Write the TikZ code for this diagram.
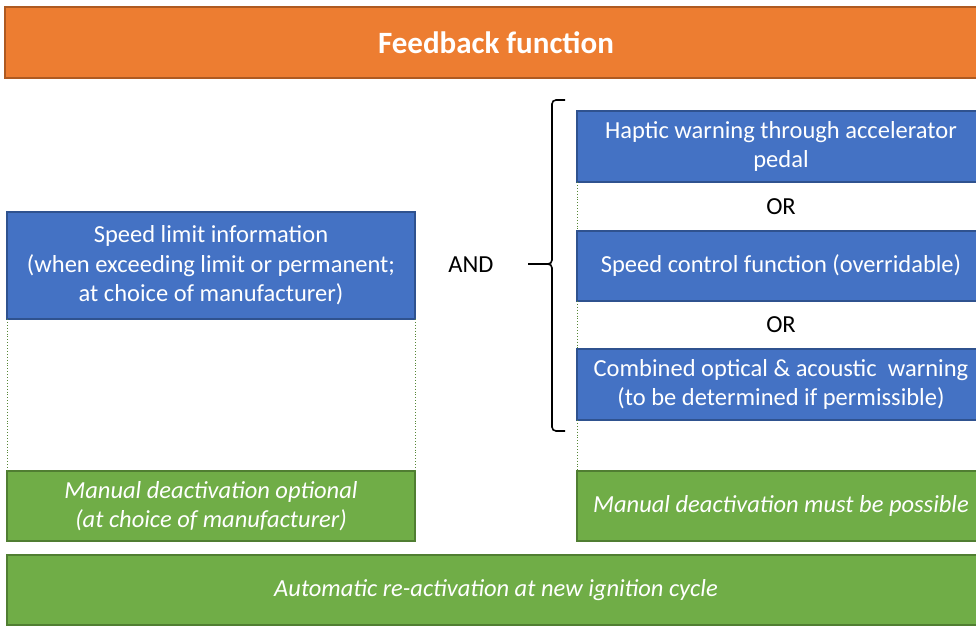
\documentclass[tikz,border=0pt]{standalone}
\usepackage{fontspec}
\setmainfont{Carlito}
\usepackage{tikz}
\usetikzlibrary{positioning}
\definecolor{ofcorange}{HTML}{ED7D31}
\definecolor{ofcorangeline}{HTML}{AE5A21}
\definecolor{ofcblue}{HTML}{4472C4}
\definecolor{ofcblueline}{HTML}{2F528F}
\definecolor{ofcgreen}{HTML}{70AD47}
\definecolor{ofcgreenline}{HTML}{507E32}
\tikzset{block/.style={draw=ofcblueline,line width=1.2pt,fill=ofcblue,text=white,minimum width=408pt,minimum height=71pt,inner sep=0pt,outer sep=0pt,align=center,font=\fontsize{24.5}{29.5}\selectfont},
         greenblock/.style={block,draw=ofcgreenline,fill=ofcgreen,minimum height=70pt,font=\fontsize{24.5}{29.5}\selectfont\itshape},
         word/.style={text=black,font=\fontsize{24.5}{29.5}\selectfont},
         guide/.style={draw=ofcgreenline!80!ofcgreen,line width=0.9pt,dotted},
         brace/.style={line width=1.6pt,rounded corners=4pt}
}

\begin{document}
\begin{tikzpicture}[x=1pt,y=-1pt]
  \useasboundingbox (0,0) rectangle (976,626);
  \node[block,draw=ofcorangeline,fill=ofcorange,minimum width=982pt,font=\fontsize{31}{36}\selectfont\bfseries] (title) at (496,42.5) {Feedback function};
  % left column
  \node[block,minimum height=107pt] (speedinfo) at (211,265.5) {Speed limit information\\(when exceeding limit or permanent;\\at choice of manufacturer)};
  \node[greenblock,below=152pt of speedinfo] (manualopt) {Manual deactivation optional\\(at choice of manufacturer)};
  \draw[guide] (speedinfo.south west) -- (manualopt.north west);
  \draw[guide] (speedinfo.south east) -- (manualopt.north east);
  % right column
  \node[block] (haptic) at (781,146.5) {Haptic warning through accelerator\\pedal};
  \node[block,minimum height=70pt,below=49pt of haptic] (speedctrl) {Speed control function (overridable)};
  \node[block,below=48pt of speedctrl] (combined) {Combined optical \& acoustic\ \ warning\\(to be determined if permissible)};
  \node[greenblock,below=51pt of combined] (manualmust) {Manual deactivation must be possible};
  \path (haptic) -- node[word] (or1) {OR} (speedctrl);
  \path (speedctrl) -- node[word] (or2) {OR} (combined);
  \draw[guide] (haptic.south west) -- (speedctrl.north west);
  \draw[guide] (speedctrl.south west) -- (combined.north west);
  \draw[guide] (combined.south west) -- (manualmust.north west);
  % AND with brace
  \node[word] (and) at (471,265) {AND};
  \coordinate (bracetop) at (565,100);
  \coordinate (bracebot) at (565,431);
  \coordinate (bracemid) at (552,264);
  \coordinate (bracetip) at (528,264);
  \draw[brace] (bracetop) -- ++(-13,0) -- (bracemid) -- (bracetip);
  \draw[brace] (bracebot) -- ++(-13,0) -- (bracemid) -- (bracetip);
  % bottom
  \node[greenblock,minimum width=978pt] (autoreact) at (496,590) {Automatic re-activation at new ignition cycle};
\end{tikzpicture}
\end{document}
